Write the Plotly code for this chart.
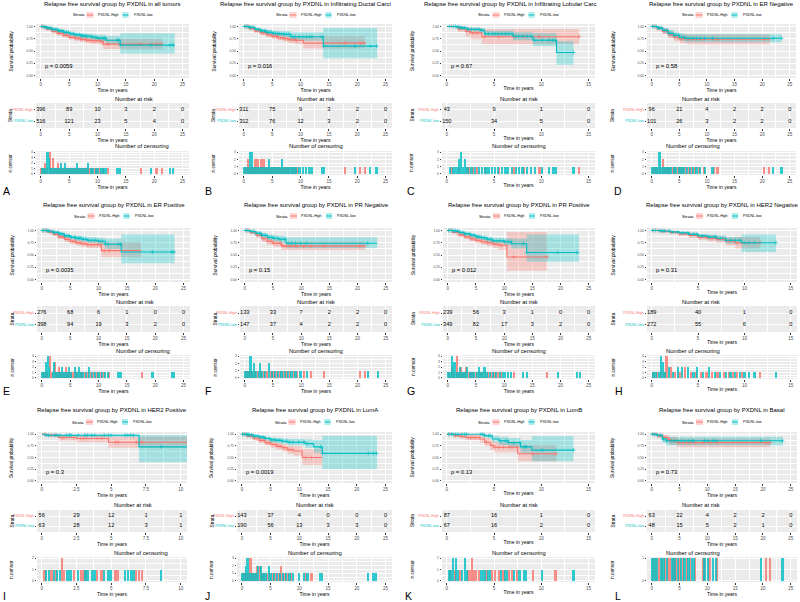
import bisect
from collections import Counter
import plotly.graph_objects as go

# Colours
RED = "#F8766D"
TEAL = "#00BFC4"
RED_FILL = "rgba(248,118,109,0.3)"
TEAL_FILL = "rgba(0,191,196,0.3)"
PANEL_BG = "#EBEBEB"
TICK_TEXT = "#4D4D4D"
FONT = "Liberation Sans, Arial, sans-serif"
W, H = 800, 602

HIGH_LABEL = "PXDNL-High"
LOW_LABEL = "PXDNL-low"
TITLE_STEM = "Relapse free survival group by PXDNL in "

# ---- Data: steps are (time, survival, lower CI, upper CI) ----
# A: all tumors
A_TITLE = TITLE_STEM + "all tumors"
A_PVAL = "p = 0.0059"
A_BREAKS = [0, 5, 10, 15, 20, 25]
A_HIGH = [(0, 1, 1, 1), (0.5, .98, .97, .99), (1, .95, .93, .97), (2, .90, .87, .93), (3, .86, .82, .90),
          (4, .82, .78, .87), (5, .78, .74, .83), (6, .76, .71, .81), (7, .74, .69, .80), (8, .72, .66, .78),
          (9, .71, .64, .78), (10.5, .69, .61, .77), (11, .64, .54, .75), (21.4, .64, .54, .75)]
A_LOW = [(0, 1, 1, 1), (0.5, .99, .98, 1), (1, .97, .96, .99), (2, .94, .92, .96), (3, .91, .88, .94),
         (4, .88, .85, .92), (5, .85, .82, .89), (6, .83, .79, .87), (7, .81, .77, .86), (8, .80, .75, .85),
         (9, .78, .73, .84), (10, .76, .70, .83), (11.5, .72, .64, .81), (14, .62, .45, .86), (23.6, .62, .45, .86)]
A_RISK_HIGH = [396, 89, 10, 3, 2, 0]
A_RISK_LOW = [516, 121, 23, 5, 4, 0]
A_CENS_HIGH = [0.1, 0.4, 0.8, 0.8, 1.1, 1.6, 1.6, 1.6, 1.6, 1.9, 2.1, 2.1, 2.1, 2.5, 2.8, 3.0, 3.0, 3.3, 3.7,
               4.0, 4.4, 4.7, 5.1, 5.5, 5.9, 6.2, 6.6, 7.0, 7.4, 7.8, 8.1, 8.6, 9.0, 9.5, 9.9, 10.4, 10.9,
               11.8, 17.6, 20.4, 21.3]
A_CENS_LOW = [0.2, 0.6, 0.9, 1.2, 1.2, 1.2, 1.2, 1.4, 1.4, 1.4, 1.7, 2.0, 2.3, 2.6, 2.9, 3.2, 3.5, 3.5, 3.8,
              4.2, 4.2, 4.5, 4.9, 5.3, 5.7, 6.0, 6.4, 6.4, 6.8, 7.2, 7.3, 7.6, 8.0, 8.3, 8.3, 8.8, 9.2, 9.7,
              10.1, 10.6, 11.0, 11.2, 11.4, 13.5, 13.8, 14.0, 19.4, 22.8, 23.3]

# B: Infiltrating Ductal Carcinoma (title cut in the source image)
B_TITLE = TITLE_STEM + "Infiltrating Ductal Carci"
B_PVAL = "p = 0.016"
B_BREAKS = [0, 5, 10, 15, 20, 25]
B_HIGH = [(0, 1, 1, 1), (1, .96, .94, .98), (2, .91, .88, .94), (3, .87, .83, .91), (4, .83, .79, .88),
          (5, .80, .75, .85), (6, .77, .72, .83), (7, .75, .69, .81), (8, .73, .66, .80), (9, .72, .64, .80),
          (10.5, .66, .55, .80), (21.3, .66, .55, .80)]
B_LOW = [(0, 1, 1, 1), (1, .98, .97, 1), (2, .94, .91, .97), (3, .91, .87, .95), (4, .88, .84, .93),
         (5, .86, .81, .91), (6, .85, .80, .90), (7, .84, .78, .90), (8.3, .79, .71, .88), (14, .60, .35, .97),
         (23.5, .60, .35, .97)]
B_RISK_HIGH = [311, 75, 9, 3, 2, 0]
B_RISK_LOW = [312, 76, 12, 3, 2, 0]
B_CENS_HIGH = [0.2, 0.5, 0.8, 0.8, 1.1, 1.4, 1.7, 2.0, 2.0, 2.4, 2.4, 2.8, 3.1, 3.1, 3.5, 3.5, 3.9, 4.2, 4.6,
               5.0, 5.4, 5.8, 6.1, 6.5, 6.9, 7.3, 7.7, 8.0, 8.5, 8.9, 9.3, 17.8, 20.5, 21.3]
B_CENS_LOW = [0.1, 0.4, 0.7, 1.0, 1.2, 1.2, 1.2, 1.5, 1.5, 1.5, 1.8, 2.2, 2.6, 3.0, 3.3, 3.7, 4.1, 4.4, 4.4,
              4.8, 5.2, 5.6, 6.0, 6.3, 6.7, 6.7, 7.1, 7.5, 7.9, 8.3, 8.7, 9.1, 9.8, 10.4, 11.0, 11.6, 12.0,
              13.8, 14.1, 19.6, 22.3, 23.4]

# C: Infiltrating Lobular Carcinoma
C_TITLE = TITLE_STEM + "Infiltrating Lobular Carc"
C_PVAL = "p = 0.67"
C_BREAKS = [0, 5, 10, 15]
C_HIGH = [(0, 1, 1, 1), (1.2, .95, .88, 1), (2, .90, .79, .99), (2.5, .87, .74, .97), (3.7, .79, .64, .95),
          (14.0, .79, .64, .95)]
C_LOW = [(0, 1, 1, 1), (1, .99, .98, 1), (1.5, .97, .95, 1), (2.2, .94, .90, .98), (3.5, .92, .87, .97),
         (4, .85, .79, .91), (7, .80, .72, .88), (9.1, .72, .60, .86), (11.6, .47, .22, .70), (13.4, .47, .22, .70)]
C_RISK_HIGH = [43, 9, 1, 0]
C_RISK_LOW = [150, 34, 5, 0]
C_CENS_HIGH = [0.5, 1.3, 2.1, 2.4, 2.8, 3.2, 4.0, 5.5, 7.1, 8.2, 9.8, 14.0]
C_CENS_LOW = [0.3, 0.7, 0.9, 1.1, 1.3, 1.3, 1.5, 1.5, 1.5, 1.7, 1.9, 1.9, 2.2, 2.6, 3.0, 3.4, 3.7, 4.1, 4.4,
              4.8, 5.1, 5.4, 5.8, 6.2, 6.5, 6.9, 7.3, 7.6, 8.0, 8.5, 8.9, 9.3, 10.1, 10.8, 11.2, 11.5, 13.4]

# D: ER Negative
D_TITLE = TITLE_STEM + "ER Negative"
D_PVAL = "p = 0.58"
D_BREAKS = [0, 5, 10, 15, 20, 25]
D_HIGH = [(0, 1, 1, 1), (1, .96, .92, .99), (2, .90, .84, .96), (3, .83, .76, .90), (4, .78, .70, .86),
          (5, .75, .66, .84), (6.5, .74, .63, .84), (21.3, .74, .63, .84)]
D_LOW = [(0, 1, 1, 1), (1, .97, .94, 1), (2, .92, .87, .97), (3, .86, .80, .93), (4, .82, .75, .89),
         (5, .78, .71, .86), (6, .76, .68, .84), (23.5, .76, .68, .84)]
D_RISK_HIGH = [96, 21, 4, 2, 2, 0]
D_RISK_LOW = [101, 26, 3, 2, 2, 0]
D_CENS_HIGH = [0.2, 0.6, 1.0, 1.5, 2.1, 2.1, 2.5, 2.9, 3.3, 3.8, 4.2, 4.7, 5.2, 5.7, 6.2, 6.7, 7.3, 7.9, 8.6,
               9.4, 11.3, 11.9, 20.4, 21.3]
D_CENS_LOW = [0.1, 0.4, 0.8, 1.2, 1.4, 1.4, 1.4, 1.8, 2.3, 2.7, 3.1, 3.5, 4.0, 4.4, 4.9, 5.4, 5.9, 6.4, 6.9,
              7.5, 8.1, 8.8, 9.6, 11.0, 22.0, 23.5]

# E: ER Positive
E_TITLE = TITLE_STEM + "ER Positive"
E_PVAL = "p = 0.0035"
E_BREAKS = [0, 5, 10, 15, 20, 25]
E_HIGH = [(0, 1, 1, 1), (1, .97, .95, .99), (2, .92, .89, .95), (3, .87, .83, .91), (4, .82, .78, .87),
          (5, .78, .73, .83), (6, .75, .70, .81), (7, .73, .67, .80), (8, .71, .64, .79), (10.5, .59, .46, .76),
          (17.5, .59, .46, .76)]
E_LOW = [(0, 1, 1, 1), (1, .99, .98, 1), (2, .96, .94, .98), (3, .93, .90, .96), (4, .89, .86, .93),
         (5, .86, .82, .90), (6, .84, .80, .89), (7, .82, .77, .88), (8, .80, .75, .86), (10, .78, .71, .85),
         (11.2, .72, .62, .83), (14, .56, .33, .92), (23.4, .56, .33, .92)]
E_RISK_HIGH = [276, 68, 6, 1, 0, 0]
E_RISK_LOW = [398, 94, 19, 3, 2, 0]
E_CENS_HIGH = [0.2, 0.6, 0.9, 1.5, 1.5, 1.5, 1.5, 1.8, 2.3, 2.3, 2.3, 2.7, 3.0, 3.0, 3.4, 3.8, 4.2, 4.2, 4.6,
               5.0, 5.4, 5.8, 6.2, 6.7, 7.1, 7.6, 8.1, 8.7, 9.2, 9.8, 10.4, 11.0, 11.9, 17.6]
E_CENS_LOW = [0.1, 0.4, 0.8, 0.8, 0.8, 1.1, 1.1, 1.1, 1.1, 1.3, 1.3, 2.0, 2.2, 2.2, 2.2, 2.5, 2.9, 3.2, 3.6,
              3.6, 4.0, 4.4, 4.8, 4.8, 5.2, 5.8, 5.8, 6.0, 6.4, 6.6, 6.6, 6.9, 7.3, 7.8, 8.3, 8.3, 8.8, 9.4,
              10.0, 10.6, 11.2, 11.7, 13.5, 13.9, 19.5, 22.9, 23.3]

# F: PR Negative
F_TITLE = TITLE_STEM + "PR Negative"
F_PVAL = "p = 0.15"
F_BREAKS = [0, 5, 10, 15, 20, 25]
F_HIGH = [(0, 1, 1, 1), (1, .96, .93, .99), (2, .90, .85, .95), (3, .83, .77, .89), (4, .78, .71, .85),
          (5, .74, .67, .82), (6.5, .68, .60, .77), (21.3, .68, .60, .77)]
F_LOW = [(0, 1, 1, 1), (1, .98, .96, 1), (2, .94, .90, .98), (3, .90, .85, .95), (4, .86, .80, .92),
         (5, .84, .78, .90), (6, .82, .75, .89), (7.3, .74, .64, .86), (23.5, .74, .64, .86)]
F_RISK_HIGH = [133, 33, 7, 2, 2, 0]
F_RISK_LOW = [147, 37, 4, 2, 2, 0]
F_CENS_HIGH = [0.3, 0.7, 1.2, 1.8, 2.3, 2.9, 3.4, 4.0, 4.6, 5.1, 5.7, 6.3, 6.8, 7.4, 8.0, 8.7, 9.3, 10.5,
               11.7, 14.0, 20.4, 21.3]
F_CENS_LOW = [0.1, 0.5, 1.0, 1.0, 1.0, 1.4, 1.6, 1.6, 2.0, 2.5, 2.7, 2.7, 3.1, 3.6, 4.3, 4.3, 4.8, 5.3, 5.9,
              6.5, 7.1, 7.7, 8.3, 9.0, 9.9, 11.0, 21.8, 23.6]

# G: PR Positive
G_TITLE = TITLE_STEM + "PR Positive"
G_PVAL = "p = 0.012"
G_BREAKS = [0, 5, 10, 15, 20, 25]
G_HIGH = [(0, 1, 1, 1), (1, .96, .94, .99), (2, .91, .88, .95), (3, .87, .83, .91), (4, .83, .78, .88),
          (5, .80, .75, .86), (6, .77, .71, .83), (7, .75, .68, .82), (8, .72, .64, .80), (9, .70, .60, .80),
          (10.5, .46, .18, .97), (17.6, .46, .18, .97)]
G_LOW = [(0, 1, 1, 1), (1, .99, .98, 1), (2, .96, .94, .98), (3, .93, .90, .96), (4, .90, .86, .94),
         (5, .87, .83, .91), (6, .85, .80, .89), (7, .82, .77, .87), (8, .79, .74, .85), (10, .77, .70, .84),
         (11.3, .73, .63, .83), (14, .55, .36, .92), (23.3, .55, .36, .92)]
G_RISK_HIGH = [239, 56, 3, 1, 0, 0]
G_RISK_LOW = [349, 82, 17, 3, 2, 0]
G_CENS_HIGH = [0.2, 0.7, 0.7, 1.0, 1.6, 1.6, 1.6, 1.6, 2.0, 2.4, 2.4, 2.8, 3.2, 3.2, 3.7, 4.1, 4.5, 5.0, 5.5,
               6.0, 6.6, 7.1, 7.7, 8.3, 8.9, 9.5, 11.7, 17.6]
G_CENS_LOW = [0.1, 0.4, 0.8, 0.8, 0.8, 0.8, 1.2, 1.2, 1.2, 1.4, 1.8, 2.2, 2.2, 2.6, 3.0, 3.4, 3.4, 3.9, 4.3,
              4.7, 5.2, 5.5, 5.5, 6.0, 6.5, 6.5, 7.0, 7.5, 8.0, 8.6, 9.2, 9.8, 10.1, 10.7, 11.2, 13.4, 14.0,
              19.5, 22.9, 23.4]

# H: HER2 Negative
H_TITLE = TITLE_STEM + "HER2 Negative"
H_PVAL = "p = 0.31"
H_BREAKS = [0, 5, 10, 15]
H_HIGH = [(0, 1, 1, 1), (1, .98, .96, 1), (2, .96, .93, .99), (3, .93, .89, .97), (4, .90, .85, .95),
          (5, .86, .81, .92), (6, .84, .78, .90), (7, .82, .75, .88), (8, .78, .70, .86), (9, .75, .63, .87),
          (11.7, .75, .63, .87)]
H_LOW = [(0, 1, 1, 1), (1, .99, .98, 1), (2, .97, .95, .99), (3, .95, .92, .98), (4, .92, .88, .96),
         (5, .89, .85, .93), (6, .87, .82, .92), (7, .84, .79, .90), (8, .80, .73, .87), (9.7, .75, .56, .92),
         (13.4, .75, .56, .92)]
H_RISK_HIGH = [189, 40, 1, 0]
H_RISK_LOW = [272, 55, 6, 0]
H_CENS_HIGH = [0.2, 0.6, 1.0, 1.3, 1.6, 1.6, 1.6, 1.6, 2.1, 2.1, 2.5, 3.0, 3.6, 3.6, 4.2, 4.8, 5.3, 5.9, 6.5,
               7.1, 7.8, 8.3, 8.8, 9.2, 9.7, 11.7]
H_CENS_LOW = [0.1, 0.4, 0.8, 1.0, 1.0, 1.0, 1.0, 1.2, 1.2, 1.2, 1.4, 1.9, 1.9, 2.3, 2.8, 2.8, 3.3, 3.3, 3.9,
              3.9, 4.5, 4.9, 4.9, 5.5, 6.2, 6.2, 6.8, 7.4, 8.0, 8.5, 9.0, 9.5, 10.0, 10.5, 11.1, 13.4]

# I: HER2 Positive
I_TITLE = TITLE_STEM + "HER2 Positive"
I_PVAL = "p = 0.3"
I_BREAKS = [0, 2.5, 5, 7.5, 10]
I_HIGH = [(0, 1, 1, 1), (0.5, .98, .94, 1), (1.2, .93, .86, .99), (2.5, .91, .83, .98), (4.8, .83, .71, .95),
          (10.45, .83, .71, .95)]
I_LOW = [(0, 1, 1, 1), (0.3, .98, .95, 1), (7.0, .73, .40, .98), (10.45, .73, .40, .98)]
I_RISK_HIGH = [56, 29, 12, 1, 1]
I_RISK_LOW = [63, 28, 12, 3, 1]
I_CENS_HIGH = [0.2, 0.7, 1.0, 1.45, 1.45, 1.6, 2.3, 2.8, 3.0, 3.2, 4.0, 4.3, 5.3, 5.5, 6.8, 7.0, 7.2]
I_CENS_LOW = [0.3, 0.5, 0.9, 1.1, 1.3, 1.8, 2.0, 2.1, 2.6, 3.1, 3.3, 3.6, 3.8, 4.5, 4.8, 5.0, 6.0, 6.2, 6.4,
              6.6, 8.6]

# J: LumA
J_TITLE = TITLE_STEM + "LumA"
J_PVAL = "p = 0.0019"
J_BREAKS = [0, 5, 10, 15, 20, 25]
J_HIGH = [(0, 1, 1, 1), (1, .96, .93, .99), (2, .91, .87, .95), (3, .87, .82, .92), (4, .82, .76, .88),
          (5, .78, .71, .85), (6, .74, .67, .82), (7, .71, .63, .79), (8, .67, .58, .76), (9, .64, .54, .75),
          (10.5, .50, .34, .68), (14.0, .50, .34, .68)]
J_LOW = [(0, 1, 1, 1), (1, .99, .98, 1), (2, .96, .94, .99), (3, .94, .90, .97), (4, .91, .87, .95),
         (5, .88, .83, .93), (6, .87, .81, .92), (7, .85, .79, .91), (8, .83, .76, .90), (11, .80, .71, .89),
         (12.5, .73, .60, .88), (14, .59, .25, .97), (23.5, .59, .25, .97)]
J_RISK_HIGH = [143, 37, 4, 0, 0, 0]
J_RISK_LOW = [190, 56, 13, 3, 3, 0]
J_CENS_HIGH = [0.2, 0.6, 1.0, 1.5, 1.5, 1.5, 1.8, 2.2, 2.6, 2.6, 3.1, 3.1, 3.5, 3.9, 4.4, 4.9, 5.4, 5.9, 6.4,
               6.8, 6.8, 7.4, 8.0, 8.6, 11.1, 12.1]
J_CENS_LOW = [0.1, 0.4, 0.8, 0.8, 1.0, 1.0, 1.0, 1.2, 1.3, 1.7, 2.0, 2.4, 2.8, 2.8, 3.3, 3.3, 3.7, 4.1, 4.7,
              4.7, 5.1, 5.6, 6.1, 6.6, 7.1, 7.7, 8.3, 8.9, 9.9, 10.8, 11.4, 13.7, 14.0, 22.0, 22.9, 23.4]

# K: LumB
K_TITLE = TITLE_STEM + "LumB"
K_PVAL = "p = 0.13"
K_BREAKS = [0, 5, 10, 15]
K_HIGH = [(0, 1, 1, 1), (0.8, .97, .93, 1), (1.5, .95, .90, 1), (2, .93, .87, .99), (3.5, .90, .82, .97),
          (4, .83, .74, .92), (4.6, .76, .66, .87), (5, .72, .61, .84), (7.5, .58, .42, .77), (11.6, .58, .42, .77)]
K_LOW = [(0, 1, 1, 1), (4.0, .97, .93, 1), (4.8, .90, .83, .97), (5.5, .86, .77, .94), (6.5, .82, .72, .92),
         (7.8, .73, .60, .88), (9.0, .66, .42, .96), (13.4, .66, .42, .96)]
K_RISK_HIGH = [87, 16, 1, 0]
K_RISK_LOW = [67, 16, 2, 0]
K_CENS_HIGH = [0.3, 0.9, 1.4, 2.3, 2.5, 2.65, 2.65, 2.9, 3.1, 3.4, 4.2, 4.8, 5.1, 5.5, 6.0, 6.6, 6.9, 7.45,
               9.1, 11.5]
K_CENS_LOW = [0.2, 0.5, 0.65, 0.65, 0.95, 0.95, 1.2, 1.6, 1.9, 1.9, 2.1, 3.6, 3.8, 4.0, 4.4, 4.6, 5.7, 6.2,
              6.4, 7.1, 7.7, 8.2, 8.4, 10.1, 13.4]

# L: Basal
L_TITLE = TITLE_STEM + "Basal"
L_PVAL = "p = 0.73"
L_BREAKS = [0, 5, 10, 15, 20, 25]
L_HIGH = [(0, 1, 1, 1), (1, .97, .92, 1), (2, .93, .86, .99), (3, .89, .80, .96), (3.3, .86, .77, .94),
          (4.5, .82, .72, .91), (21.3, .82, .72, .91)]
L_LOW = [(0, 1, 1, 1), (1, .98, .94, 1), (1.9, .90, .82, .97), (2.6, .86, .76, .95), (23.6, .86, .76, .95)]
L_RISK_HIGH = [63, 22, 4, 2, 2, 0]
L_RISK_LOW = [48, 15, 5, 2, 1, 0]
L_CENS_HIGH = [0.2, 0.8, 1.3, 1.9, 2.4, 3.0, 3.3, 3.9, 4.3, 5.0, 5.6, 6.3, 6.9, 7.8, 9.3, 10.4, 11.8, 20.6, 21.3]
L_CENS_LOW = [0.1, 0.5, 1.0, 1.6, 2.1, 2.7, 3.6, 4.1, 4.7, 5.3, 5.9, 6.6, 7.2, 7.5, 9.5, 10.1, 11.0, 11.5,
              19.6, 23.5]

PANELS = [
    (A_TITLE, A_PVAL, A_BREAKS, A_HIGH, A_LOW, A_RISK_HIGH, A_RISK_LOW, A_CENS_HIGH, A_CENS_LOW),
    (B_TITLE, B_PVAL, B_BREAKS, B_HIGH, B_LOW, B_RISK_HIGH, B_RISK_LOW, B_CENS_HIGH, B_CENS_LOW),
    (C_TITLE, C_PVAL, C_BREAKS, C_HIGH, C_LOW, C_RISK_HIGH, C_RISK_LOW, C_CENS_HIGH, C_CENS_LOW),
    (D_TITLE, D_PVAL, D_BREAKS, D_HIGH, D_LOW, D_RISK_HIGH, D_RISK_LOW, D_CENS_HIGH, D_CENS_LOW),
    (E_TITLE, E_PVAL, E_BREAKS, E_HIGH, E_LOW, E_RISK_HIGH, E_RISK_LOW, E_CENS_HIGH, E_CENS_LOW),
    (F_TITLE, F_PVAL, F_BREAKS, F_HIGH, F_LOW, F_RISK_HIGH, F_RISK_LOW, F_CENS_HIGH, F_CENS_LOW),
    (G_TITLE, G_PVAL, G_BREAKS, G_HIGH, G_LOW, G_RISK_HIGH, G_RISK_LOW, G_CENS_HIGH, G_CENS_LOW),
    (H_TITLE, H_PVAL, H_BREAKS, H_HIGH, H_LOW, H_RISK_HIGH, H_RISK_LOW, H_CENS_HIGH, H_CENS_LOW),
    (I_TITLE, I_PVAL, I_BREAKS, I_HIGH, I_LOW, I_RISK_HIGH, I_RISK_LOW, I_CENS_HIGH, I_CENS_LOW),
    (J_TITLE, J_PVAL, J_BREAKS, J_HIGH, J_LOW, J_RISK_HIGH, J_RISK_LOW, J_CENS_HIGH, J_CENS_LOW),
    (K_TITLE, K_PVAL, K_BREAKS, K_HIGH, K_LOW, K_RISK_HIGH, K_RISK_LOW, K_CENS_HIGH, K_CENS_LOW),
    (L_TITLE, L_PVAL, L_BREAKS, L_HIGH, L_LOW, L_RISK_HIGH, L_RISK_LOW, L_CENS_HIGH, L_CENS_LOW),
]
LETTERS = list("ABCDEFGHIJKL")

# ---- Layout geometry (pixels) ----
PANEL_X = [(36, 189), (239, 392), (442, 595), (647, 796),
           (37, 190), (240, 392), (443, 595), (647, 797),
           (37, 187), (237, 392), (442, 595), (647, 797)]
TITLE_LEFT = {1: 218, 2: 422}  # titles that run off the right edge
LETTER_X = [1, 203, 405, 612, 1, 203, 405, 613, 1, 203, 403, 613]
ROWS = [
    dict(title=4, legend=15, surv=(24, 78), risk_title=99, risk=(103, 128),
         cens_title=146, cens=(151, 175), letter=191),
    dict(title=205, legend=216, surv=(228, 282), risk_title=302, risk=(306, 332),
         cens_title=351, cens=(355, 379), letter=391),
    dict(title=410, legend=422, surv=(432, 483), risk_title=505, risk=(510, 532),
         cens_title=553, cens=(557, 582), letter=596),
]


def px(v):
    return v / W


def py(v):
    return 1 - v / H


def ref(kind, idx):
    return kind if idx == 1 else f"{kind}{idx}"


def x_axis(idx, left, right, xr, step):
    return dict(
        domain=[px(left), px(right)], range=xr, anchor=ref("y", idx),
        tick0=0, dtick=step, showgrid=True, gridcolor="white", gridwidth=0.8,
        minor=dict(tick0=0, dtick=step / 2, showgrid=True, gridcolor="white", gridwidth=0.4),
        zeroline=False, showline=False, ticks="outside", ticklen=1.5, tickwidth=0.5,
        tickcolor="#333333", tickfont=dict(size=4.5, color=TICK_TEXT),
        title=dict(text="Time in years", font=dict(size=5, color="black"), standoff=0),
        automargin=False, fixedrange=True,
    )


def y_axis(idx, top, bottom, yr, **kw):
    d = dict(
        domain=[py(bottom), py(top)], range=yr, anchor=ref("x", idx),
        showgrid=True, gridcolor="white", gridwidth=0.8, zeroline=False, showline=False,
        ticks="outside", ticklen=1.5, tickwidth=0.5, tickcolor="#333333",
        tickfont=dict(size=3.3, color=TICK_TEXT), automargin=False, fixedrange=True,
    )
    d.update(kw)
    return d


def surv_at(steps, t):
    times = [s[0] for s in steps]
    i = max(bisect.bisect_right(times, t) - 1, 0)
    return steps[i][1]


fig = go.Figure()
layout_axes = {}
annotations = []
shapes = []

for p, (title, pval, breaks, high, low, risk_high, risk_low, cens_high, cens_low) in enumerate(PANELS):
    row = ROWS[p // 4]
    left, right = PANEL_X[p]
    cx = (left + right) / 2
    tmax = breaks[-1]
    step = breaks[1] - breaks[0]
    xr = [-0.034 * tmax, 1.045 * tmax]
    i_s, i_r, i_c = 3 * p + 1, 3 * p + 2, 3 * p + 3

    # --- survival curves: confidence ribbons first ---
    for steps, fill in ((high, RED_FILL), (low, TEAL_FILL)):
        t = [s[0] for s in steps]
        fig.add_trace(go.Scatter(x=t, y=[s[2] for s in steps], mode="lines", line=dict(width=0, shape="hv"),
                                 xaxis=ref("x", i_s), yaxis=ref("y", i_s), hoverinfo="skip"))
        fig.add_trace(go.Scatter(x=t, y=[s[3] for s in steps], mode="lines", line=dict(width=0, shape="hv"),
                                 fill="tonexty", fillcolor=fill,
                                 xaxis=ref("x", i_s), yaxis=ref("y", i_s), hoverinfo="skip"))
    for steps, col, cens in ((high, RED, cens_high), (low, TEAL, cens_low)):
        fig.add_trace(go.Scatter(x=[s[0] for s in steps], y=[s[1] for s in steps], mode="lines",
                                 line=dict(color=col, width=1.1, shape="hv"),
                                 xaxis=ref("x", i_s), yaxis=ref("y", i_s)))
        ct = sorted(set(c for c in cens if c <= steps[-1][0]))
        fig.add_trace(go.Scatter(x=ct, y=[surv_at(steps, c) for c in ct], mode="markers",
                                 marker=dict(symbol="cross-thin-open", size=3, color=col,
                                             line=dict(color=col, width=0.6)),
                                 xaxis=ref("x", i_s), yaxis=ref("y", i_s)))

    # --- risk table ---
    for vals, yv in ((risk_high, 2), (risk_low, 1)):
        fig.add_trace(go.Scatter(x=breaks, y=[yv] * len(breaks), mode="text", text=[str(v) for v in vals],
                                 textfont=dict(size=5.6, color="black", family=FONT),
                                 xaxis=ref("x", i_r), yaxis=ref("y", i_r)))

    # --- censoring bars ---
    cmax = 1
    bar_w = tmax * 0.016
    for cens, col in ((cens_high, RED), (cens_low, TEAL)):
        cnt = Counter(cens)
        xs = sorted(cnt)
        cmax = max(cmax, max(cnt.values()))
        fig.add_trace(go.Bar(x=xs, y=[cnt[v] for v in xs], width=bar_w,
                             marker=dict(color=col, line_width=0), opacity=0.8,
                             xaxis=ref("x", i_c), yaxis=ref("y", i_c)))

    # --- axes ---
    for idx in (i_s, i_r, i_c):
        layout_axes[ref("xaxis", idx)] = x_axis(idx, left, right, xr, step)
    layout_axes[ref("yaxis", i_s)] = y_axis(
        i_s, *row["surv"], [-0.05, 1.05],
        tickvals=[0, 0.25, 0.5, 0.75, 1], ticktext=["0.00", "0.25", "0.50", "0.75", "1.00"],
        minor=dict(tickvals=[0.125, 0.375, 0.625, 0.875], showgrid=True, gridcolor="white", gridwidth=0.4))
    layout_axes[ref("yaxis", i_r)] = y_axis(
        i_r, *row["risk"], [0.4, 2.6], tickvals=[1, 2],
        ticktext=[f"<span style='color:{TEAL}'>{LOW_LABEL}</span>",
                  f"<span style='color:{RED}'>{HIGH_LABEL}</span>"],
        tickfont=dict(size=3.6))
    layout_axes[ref("yaxis", i_c)] = y_axis(
        i_c, *row["cens"], [-0.05 * cmax, 1.05 * cmax], tick0=0, dtick=1,
        minor=dict(tick0=0, dtick=0.5, showgrid=True, gridcolor="white", gridwidth=0.4))

    # --- text ---
    if p in TITLE_LEFT:
        annotations.append(dict(text=title, x=px(TITLE_LEFT[p]), xanchor="left", y=py(row["title"]),
                                font=dict(size=6, color="black")))
    else:
        annotations.append(dict(text=title, x=px(cx), xanchor="center", y=py(row["title"]),
                                font=dict(size=6, color="black")))
    annotations.append(dict(text=pval, x=0.015 * tmax, y=0.19, xref=ref("x", i_s), yref=ref("y", i_s),
                            xanchor="left", font=dict(size=5.8, color="black")))
    annotations.append(dict(text="Number at risk", x=px(cx), y=py(row["risk_title"]),
                            font=dict(size=5.8, color="black")))
    annotations.append(dict(text="Number of censoring", x=px(cx), y=py(row["cens_title"]),
                            font=dict(size=5.8, color="black")))
    for label, (top, bottom) in (("Survival probability", row["surv"]), ("Strata", row["risk"]),
                                 ("n.censor", row["cens"])):
        annotations.append(dict(text=label, x=px(left - 30), y=py((top + bottom) / 2), textangle=-90,
                                font=dict(size=4.8, color="black")))
    annotations.append(dict(text=LETTERS[p], x=px(LETTER_X[p]), xanchor="left", y=py(row["letter"]),
                            font=dict(size=10.5, color="black")))

    # --- per-panel legend ---
    ly = row["legend"]
    annotations.append(dict(text="Strata", x=px(cx - 42), xanchor="left", y=py(ly),
                            font=dict(size=4.3, color="black")))
    for (k0, k1, lx), col, fill, label in (((-26, -19, -17), RED, RED_FILL, HIGH_LABEL),
                                           ((10, 16, 19), TEAL, TEAL_FILL, LOW_LABEL)):
        shapes.append(dict(type="rect", xref="paper", yref="paper", x0=px(cx + k0), x1=px(cx + k1),
                           y0=py(ly + 3), y1=py(ly - 3), fillcolor=fill, line_width=0))
        shapes.append(dict(type="line", xref="paper", yref="paper", x0=px(cx + k0), x1=px(cx + k1),
                           y0=py(ly), y1=py(ly), line=dict(color=col, width=1)))
        annotations.append(dict(text=label, x=px(cx + lx), xanchor="left", y=py(ly),
                                font=dict(size=3.6, color="black")))

for a in annotations:
    a.setdefault("xref", "paper")
    a.setdefault("yref", "paper")
    a.setdefault("showarrow", False)
    a.setdefault("yanchor", "middle")

fig.update_layout(
    width=W, height=H, margin=dict(l=0, r=0, t=0, b=0),
    paper_bgcolor="white", plot_bgcolor=PANEL_BG,
    font=dict(family=FONT, color="black"),
    showlegend=False, barmode="overlay", bargap=0,
    annotations=annotations, shapes=shapes,
    **layout_axes,
)

fig.write_html("out.html", config={"displayModeBar": False},
               post_script="document.body.style.margin='0';document.body.style.overflow='hidden';")
